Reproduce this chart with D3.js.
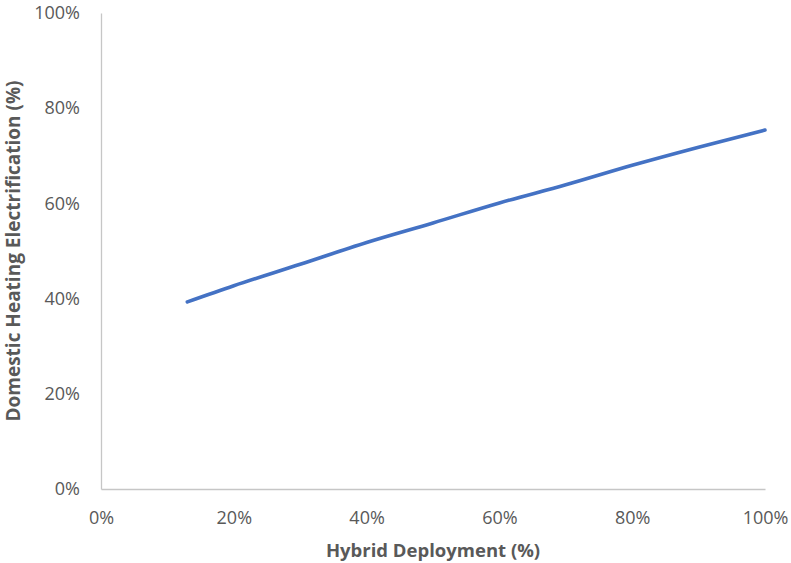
<!DOCTYPE html>
<html>
<head>
<meta charset="utf-8">
<script src="https://cdn.jsdelivr.net/npm/d3@7/dist/d3.min.js"></script>
<style>
  html, body { margin: 0; padding: 0; background: #fff; }
  svg { display: block; }
  text { font-family: "Open Sans", "Liberation Sans", sans-serif; }
</style>
</head>
<body>
<svg id="chart" width="791" height="563"></svg>
<script>
// Hybrid deployment share (%) and resulting domestic heating electrification (%)
const hybridDeployment = [13, 20, 30, 40, 50, 60, 70, 80, 90, 100];
const heatingElectrification = [39.3, 42.7, 47.2, 51.8, 55.9, 60.1, 63.9, 68.0, 71.8, 75.4];
const xTicks = [0, 20, 40, 60, 80, 100];
const yTicks = [0, 20, 40, 60, 80, 100];
const xTitle = "Hybrid Deployment (%)";
const yTitle = "Domestic Heating Electrification (%)";

const svg = d3.select("#chart");
const margin = { left: 101, right: 26, top: 13, bottom: 74 };
const W = 791, H = 563;

const x = d3.scaleLinear().domain([0, 100]).range([margin.left, W - margin.right]);
const y = d3.scaleLinear().domain([0, 100]).range([H - margin.bottom, margin.top]);

const axisColor = "#c6c6c6";
const labelColor = "#595959";

// X axis
const xAxis = svg.append("g")
  .attr("transform", `translate(0,${y(0)})`)
  .call(d3.axisBottom(x).tickValues(xTicks).tickSize(0).tickPadding(22)
    .tickFormat(d => d + "%"));
xAxis.select(".domain").attr("stroke", axisColor).attr("stroke-width", 1.3);
xAxis.selectAll("text").attr("fill", labelColor).style("font-size", "18px");

// Y axis
const yAxis = svg.append("g")
  .attr("transform", `translate(${x(0)},0)`)
  .call(d3.axisLeft(y).tickValues(yTicks).tickSize(0).tickPadding(21)
    .tickFormat(d => d + "%"));
yAxis.select(".domain").attr("stroke", axisColor).attr("stroke-width", 1.3);
yAxis.selectAll("text").attr("fill", labelColor).style("font-size", "18px");

// Series line
const line = d3.line()
  .x((d, i) => x(d))
  .y((d, i) => y(heatingElectrification[i]))
  .curve(d3.curveMonotoneX);

svg.append("path")
  .datum(hybridDeployment)
  .attr("d", line)
  .attr("fill", "none")
  .attr("stroke", "#4472C4")
  .attr("stroke-width", 3.6)
  .attr("stroke-linecap", "round");

// Axis titles
svg.append("text")
  .attr("x", (x(0) + x(100)) / 2)
  .attr("y", 557)
  .attr("text-anchor", "middle")
  .attr("fill", labelColor)
  .style("font-size", "18.5px")
  .style("font-weight", "bold")
  .text(xTitle);

svg.append("text")
  .attr("transform", `translate(19.5,${(y(0) + y(100)) / 2}) rotate(-90)`)
  .attr("text-anchor", "middle")
  .attr("fill", labelColor)
  .style("font-size", "19px")
  .style("font-weight", "bold")
  .text(yTitle);
</script>
</body>
</html>
